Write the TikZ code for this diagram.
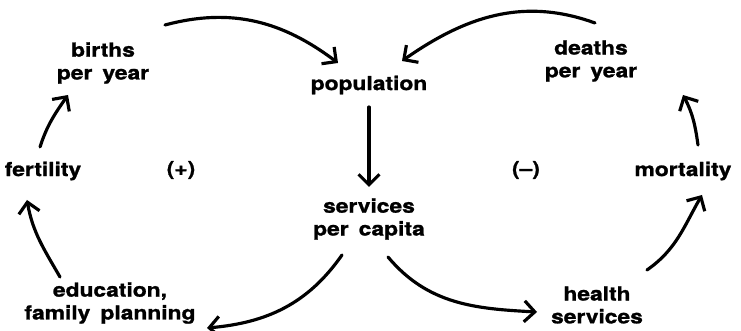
\documentclass[tikz,border=0pt]{standalone}
\usepackage{fontspec}
\newfontfamily\loopfont{TeX Gyre Heros}[FakeStretch=1.18, FakeBold=1.2, WordSpace=1.6]
\usetikzlibrary{arrows.meta, calc}

\begin{document}
\begin{tikzpicture}[
    x=0.02cm, y=0.02cm,
    var/.style={align=center, inner sep=0pt, font=\loopfont\bfseries\fontsize{11}{13}\selectfont},
    arr/.style={-{Straight Barb[length=2.1mm, width=4.2mm]}, line width=1.8pt, line cap=round}
]
\useasboundingbox (0,0) rectangle (741,331);

\node[var] (births)     at (103,268) {births\\per year};
\node[var] (population) at (369,246) {population};
\node[var] (deaths)     at (591,270) {deaths\\per year};
\node[var] (fertility)  at (43,160)  {fertility};
\node[var] (mortality)  at (683,160) {mortality};
\node[var] (services)   at (369,112) {services\\per capita};
\node[var] (education)  at (110,28)  {education,\\family planning};
\node[var] (health)     at (597,26)  {health\\services};

% loop signs
\node[var] (plus)  at (181,161) {(+)};
\node[var] (minus) at (526,161) {(\textendash)};

\draw[arr] ($(births)+(62,38)$) to[out=15, in=143] ($(population)+(-31,22)$);
\draw[arr] ($(deaths)+(4,38)$) to[out=160, in=35] ($(population)+(33,24)$);
\draw[arr] ($(population)+(0,-22)$) -- ($(services)+(0,32)$);

\draw[arr] ($(services)+(-27,-36)$) to[out=235, in=5] ($(education)+(97,-25)$);
\draw[arr] ($(services)+(19,-38)$) to[out=-50, in=177] ($(health)+(-60,-7)$);

\draw[arr] ($(health)+(50,35)$) to[out=35, in=240] ($(mortality)+(19,-24)$);
\draw[arr] ($(mortality)+(15,26)$) to[out=98, in=-62] ($(deaths)+(92,-34)$);

\draw[arr] ($(education)+(-50,26)$) to[out=120, in=-80] ($(fertility)+(-16,-29)$);
\draw[arr] ($(fertility)+(-3,24)$) to[out=72, in=235] ($(births)+(-35,-32)$);
\end{tikzpicture}
\end{document}
